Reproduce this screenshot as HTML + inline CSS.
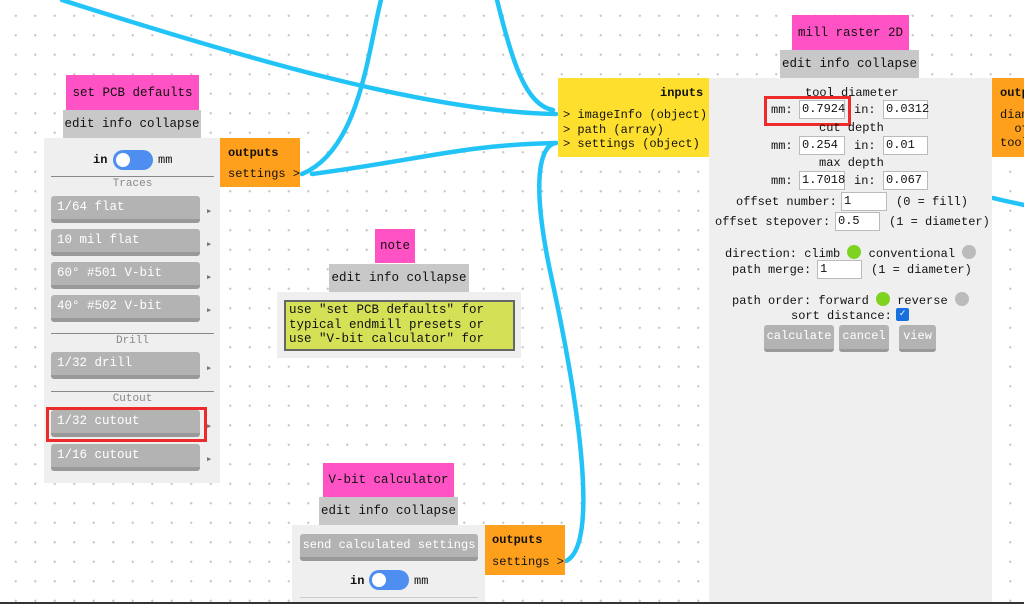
<!DOCTYPE html>
<html><head><meta charset="utf-8"><style>
*{box-sizing:border-box;margin:0;padding:0}
body{width:1024px;height:604px;overflow:hidden;position:relative;background:#fff;
background-image:radial-gradient(circle,#c8c8c8 1px,transparent 1.3px);background-size:19.5px 19.5px;background-position:6px 6px;
font-family:"Liberation Mono","DejaVu Sans Mono",monospace;font-size:12px;color:#111}
.a{position:absolute}
.pk{background:#ff52c4;display:flex;align-items:center;justify-content:center;font-size:12.5px}
.gr{background:#c8c8c8;display:flex;align-items:center;justify-content:center;font-size:12.5px}
.pn{background:#efefef}
.or{background:#ffa01c}
.ye{background:#ffdf2e}
.btn{position:absolute;background:#b3b3b3;border-radius:3px;border-bottom:4px solid #999;color:#fff;padding-left:6px;line-height:22px;font-size:12.5px;white-space:nowrap}
.arr{position:absolute;font-size:7px;color:#777}
.sep{position:absolute;height:1px;background:#888}
.lbl{position:absolute;color:#888;font-size:11px;text-align:center}
.tg{position:absolute;width:40px;height:20px;border-radius:10px;background:#4d8ef0}
.tg::after{content:"";position:absolute;left:3px;top:3px;width:14px;height:14px;border-radius:50%;background:#fff}
.in{position:absolute;background:#fff;border:1px solid #bbb;height:19px;line-height:17px;padding-left:2px}
.t{position:absolute;white-space:pre}
.mb{position:absolute;background:#b3b3b3;border-radius:3px;border-bottom:3px solid #999;color:#fff;text-align:center;line-height:22px;height:27px}
.dot{display:inline-block;width:14px;height:14px;border-radius:50%;vertical-align:-2px}
</style></head><body>
<svg class="a" style="left:0;top:0" width="1024" height="604">
<g fill="none" stroke="#22c4f8" stroke-width="4.5" stroke-linecap="round">
<path d="M62 0 C 250 60, 430 112, 556 114"/>
<path d="M302 174 C 360 150, 368 50, 381 0"/>
<path d="M497 0 C 512 60, 525 105, 553 110"/>
<path d="M312 174 C 420 160, 460 145, 556 143"/>
<path d="M566 561 C 600 545, 578 400, 552 280 C 530 180, 540 145, 556 143"/>
<path d="M993 198 C 1005 201, 1015 203, 1024 205"/>
</g></svg>

<!-- set PCB defaults -->
<div class="a pk" style="left:66px;top:75px;width:133px;height:35px">set PCB defaults</div>
<div class="a gr" style="left:63px;top:110px;width:138px;height:28px">edit info collapse</div>
<div class="a pn" style="left:44px;top:138px;width:176px;height:345px"></div>
<div class="t" style="left:93px;top:153px;font-weight:bold">in</div>
<div class="tg" style="left:113px;top:150px"></div>
<div class="t" style="left:158px;top:153px">mm</div>
<div class="sep" style="left:51px;top:176px;width:163px"></div>
<div class="lbl" style="left:51px;top:178px;width:163px">Traces</div>
<div class="btn" style="left:51px;top:196px;width:149px;height:27px">1/64 flat</div><div class="arr" style="left:207px;top:207px">▶</div>
<div class="btn" style="left:51px;top:229px;width:149px;height:27px">10 mil flat</div><div class="arr" style="left:207px;top:240px">▶</div>
<div class="btn" style="left:51px;top:262px;width:149px;height:27px">60° #501 V-bit</div><div class="arr" style="left:207px;top:273px">▶</div>
<div class="btn" style="left:51px;top:295px;width:149px;height:27px">40° #502 V-bit</div><div class="arr" style="left:207px;top:306px">▶</div>
<div class="sep" style="left:51px;top:333px;width:163px"></div>
<div class="lbl" style="left:51px;top:335px;width:163px">Drill</div>
<div class="btn" style="left:51px;top:352px;width:149px;height:27px">1/32 drill</div><div class="arr" style="left:207px;top:364px">▶</div>
<div class="sep" style="left:51px;top:391px;width:163px"></div>
<div class="lbl" style="left:51px;top:393px;width:163px">Cutout</div>
<div class="btn" style="left:51px;top:410px;width:149px;height:27px">1/32 cutout</div><div class="arr" style="left:207px;top:422px">▶</div>
<div class="a" style="left:46px;top:407px;width:161px;height:35px;border:3px solid #ee2b2b"></div>
<div class="btn" style="left:51px;top:444px;width:149px;height:27px">1/16 cutout</div><div class="arr" style="left:207px;top:455px">▶</div>
<div class="a or" style="left:220px;top:138px;width:80px;height:49px"></div>
<div class="t" style="left:228px;top:146px;font-weight:bold">outputs</div>
<div class="t" style="left:228px;top:167px">settings &gt;</div>

<!-- note -->
<div class="a pk" style="left:375px;top:229px;width:40px;height:34px">note</div>
<div class="a gr" style="left:329px;top:264px;width:140px;height:28px">edit info collapse</div>
<div class="a pn" style="left:277px;top:292px;width:244px;height:66px"></div>
<div class="a" style="left:284px;top:300px;width:231px;height:51px;background:#d4e157;border:2px solid #666;line-height:14.5px;padding:1px 0 0 3px;overflow:hidden;white-space:pre;font-size:12.5px">use "set PCB defaults" for
typical endmill presets or
use "V-bit calculator" for</div>

<!-- V-bit calculator -->
<div class="a pk" style="left:323px;top:463px;width:131px;height:34px">V-bit calculator</div>
<div class="a gr" style="left:319px;top:497px;width:139px;height:28px">edit info collapse</div>
<div class="a pn" style="left:292px;top:525px;width:193px;height:79px"></div>
<div class="btn" style="left:300px;top:534px;width:178px;height:27px;padding-left:0;text-align:center;font-size:12px">send calculated settings</div>
<div class="t" style="left:350px;top:574px;font-weight:bold">in</div>
<div class="tg" style="left:369px;top:570px"></div>
<div class="t" style="left:414px;top:574px">mm</div>
<div class="sep" style="left:300px;top:597px;width:178px;background:#ccc"></div>
<div class="a or" style="left:485px;top:525px;width:80px;height:50px"></div>
<div class="t" style="left:492px;top:533px;font-weight:bold">outputs</div>
<div class="t" style="left:492px;top:555px">settings &gt;</div>

<!-- mill raster 2D -->
<div class="a pk" style="left:792px;top:15px;width:117px;height:35px">mill raster 2D</div>
<div class="a gr" style="left:780px;top:50px;width:139px;height:28px">edit info collapse</div>
<div class="a pn" style="left:709px;top:78px;width:283px;height:526px"></div>
<div class="a ye" style="left:558px;top:78px;width:151px;height:79px"></div>
<div class="t" style="left:660px;top:86px;font-weight:bold">inputs</div>
<div class="t" style="left:563px;top:108px;line-height:14.5px">&gt; imageInfo (object)
&gt; path (array)
&gt; settings (object)</div>
<div class="a or" style="left:992px;top:78px;width:32px;height:79px;overflow:hidden"><div class="t" style="left:8px;top:8px;font-weight:bold">outputs</div><div class="t" style="left:8px;top:30px;line-height:14px">diameter
  offset
tool</div></div>

<div class="t" style="left:805px;top:86px">tool diameter</div>
<div class="t" style="left:771px;top:103px">mm:</div><div class="in" style="left:799px;top:100px;width:46px">0.7924</div>
<div class="t" style="left:854px;top:103px">in:</div><div class="in" style="left:883px;top:100px;width:45px">0.0312</div>
<div class="a" style="left:764px;top:96px;width:87px;height:30px;border:3px solid #ee2b2b"></div>
<div class="t" style="left:819px;top:121px">cut depth</div>
<div class="t" style="left:771px;top:139px">mm:</div><div class="in" style="left:799px;top:136px;width:46px">0.254</div>
<div class="t" style="left:854px;top:139px">in:</div><div class="in" style="left:883px;top:136px;width:45px">0.01</div>
<div class="t" style="left:819px;top:156px">max depth</div>
<div class="t" style="left:771px;top:174px">mm:</div><div class="in" style="left:799px;top:171px;width:46px">1.7018</div>
<div class="t" style="left:854px;top:174px">in:</div><div class="in" style="left:883px;top:171px;width:45px">0.067</div>
<div class="t" style="left:736px;top:195px">offset number:</div><div class="in" style="left:841px;top:192px;width:46px">1</div>
<div class="t" style="left:896px;top:195px">(0 = fill)</div>
<div class="t" style="left:715px;top:215px">offset stepover:</div><div class="in" style="left:835px;top:212px;width:45px">0.5</div>
<div class="t" style="left:889px;top:215px">(1 = diameter)</div>
<div class="t" style="left:725px;top:245px">direction: climb <span class="dot" style="background:#7ed321"></span> conventional <span class="dot" style="background:#bbb"></span></div>
<div class="t" style="left:732px;top:263px">path merge:</div><div class="in" style="left:817px;top:260px;width:45px">1</div>
<div class="t" style="left:871px;top:263px">(1 = diameter)</div>
<div class="t" style="left:732px;top:292px">path order: forward <span class="dot" style="background:#7ed321"></span> reverse <span class="dot" style="background:#bbb"></span></div>
<div class="t" style="left:791px;top:309px">sort distance:</div>
<div class="a" style="left:896px;top:308px;width:13px;height:13px;background:#1a6fe0;border-radius:2px;color:#fff;font-size:10px;line-height:13px;text-align:center">✓</div>
<div class="mb" style="left:764px;top:325px;width:70px">calculate</div>
<div class="mb" style="left:839px;top:325px;width:50px">cancel</div>
<div class="mb" style="left:899px;top:325px;width:37px">view</div>

<div class="a" style="left:0;top:602px;width:1024px;height:2px;background:#333"></div>
</body></html>
